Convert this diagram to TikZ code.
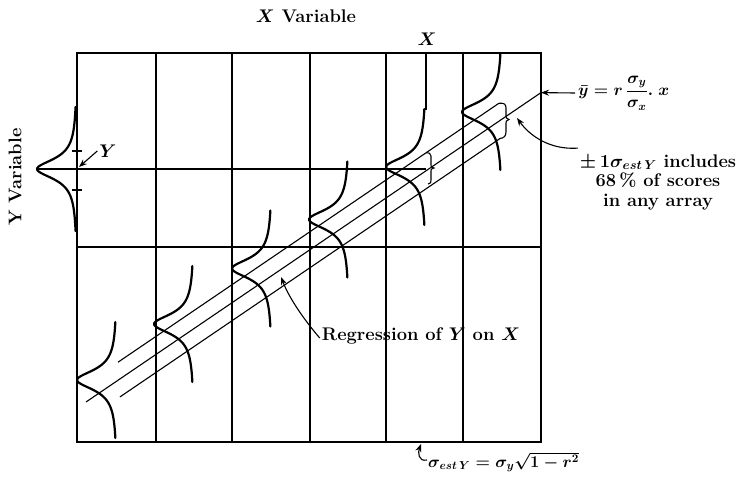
\RequirePackage{fix-cm}
\documentclass[tikz,border=0pt]{standalone}
\usepackage{amsmath}
\usetikzlibrary{arrows.meta}
\begin{document}
\begin{tikzpicture}[x=1pt,y=-1pt,
  gridline/.style={line width=1.3pt},
  frameline/.style={line width=1.8pt},
  bell/.style={line width=2.2pt, line cap=round},
  regline/.style={line width=1.1pt},
  lab/.style={font=\fontsize{18.3}{19.5}\selectfont\bfseries\boldmath, inner sep=0pt},
  mathlab/.style={font=\fontsize{16.5}{19}\selectfont\bfseries\boldmath, inner sep=0pt},
  arr/.style={line width=1.1pt, -{Stealth[length=8pt,width=6pt]}}]
\useasboundingbox (0,0) rectangle (742,483);
% grid
\draw[gridline] (156,53) -- (156,442) (232,53) -- (232,442) (310,53) -- (310,442)
  (386,53) -- (386,442) (463,53) -- (463,442);
\draw[gridline] (77,247) -- (541,247);
\draw[frameline] (77,53) rectangle (541,442);
% mean lines
\draw[gridline] (37,169) -- (426,169);
\draw[gridline] (426,53) -- (426,110);
% Y distribution
\draw[bell] plot[domain=-62:62, samples=80, smooth] ({77-40/(1+(\x/12)^2)},{169+\x});
\draw[gridline] (72,151) -- (82,151) (72,190) -- (82,190);
% array distributions
\foreach \b/\p in {117/380, 194/324, 272/268.5, 349/219.5, 426/167, 502/112}{
  \draw[bell] plot[domain=-58:58, samples=80, smooth] ({\b-40/(1+(\x/12)^2)},{\p+\x});
}
% regression lines
\coordinate (mA) at (86,402); \coordinate (mB) at (541,92.6);
\coordinate (uA) at (118,362.2); \coordinate (uB) at (499,103.2);
\coordinate (lA) at (120,396.9); \coordinate (lB) at (500,138.5);
\draw[regline] (mA) -- (mB);
\draw[regline] (uA) -- (uB);
\draw[regline] (lA) -- (lB);
% brace at right end
\draw[regline] (uB) .. controls (504,103) and (506,104) .. (506,108) -- (506,116)
  .. controls (506,118) .. (509,119.5) .. controls (506,121) .. (506,123) -- (506,132)
  .. controls (506,136) and (504,138) .. (lB);
% brace at mean
\draw[regline] (426,152.8) .. controls (430,153) .. (431,156) -- (431,165)
  .. controls (431,167) .. (434,168) .. controls (431,169) .. (431,171) -- (431,180)
  .. controls (431,183) .. (428,184);
% labels
\node[lab] (xvar) at (306,16) {$X$ Variable};
\node[lab] (xlab) at (427,39) {$X$};
\node[lab, rotate=90] (yvar) at (15,177) {Y Variable};
\node[lab] (ylab) at (108,151) {$Y$};
\coordinate (ymean) at (79,167);
\draw[arr] ([xshift=-2pt]ylab.west) -- (ymean);
\node[mathlab, anchor=west] (eq) at (578,93) {$\bar{y}=r\,\dfrac{\sigma_y}{\sigma_x}.\;x$};
\draw[arr] ([xshift=-3pt]eq.west) -- (mB);
\node[lab, align=center] (pm) at (658,182) {$\pm\,1\sigma_{est\,Y}$\ includes\\68\,\% of scores\\in any array};
\coordinate (pmtip) at (517,118);
\draw[arr] ([xshift=-2pt,yshift=6pt]pm.north west) .. controls (550,150) and (530,136) .. (pmtip);
\node[lab] (regr) at (421,336) {Regression of $Y$ on $X$};
\coordinate (regtip) at (281,277);
\draw[arr] ([xshift=-2pt,yshift=-2pt]regr.west) .. controls (306,322) and (290,300) .. (regtip);
\node[mathlab, anchor=west] (sest) at (428,462) {$\sigma_{est\,Y}=\sigma_y\sqrt{1-r^2}$};
\coordinate (sesttip) at (421,444);
\draw[arr] ([xshift=-1pt,yshift=2pt]sest.west) .. controls (418,462) and (418,452) .. (sesttip);
\end{tikzpicture}
\end{document}
